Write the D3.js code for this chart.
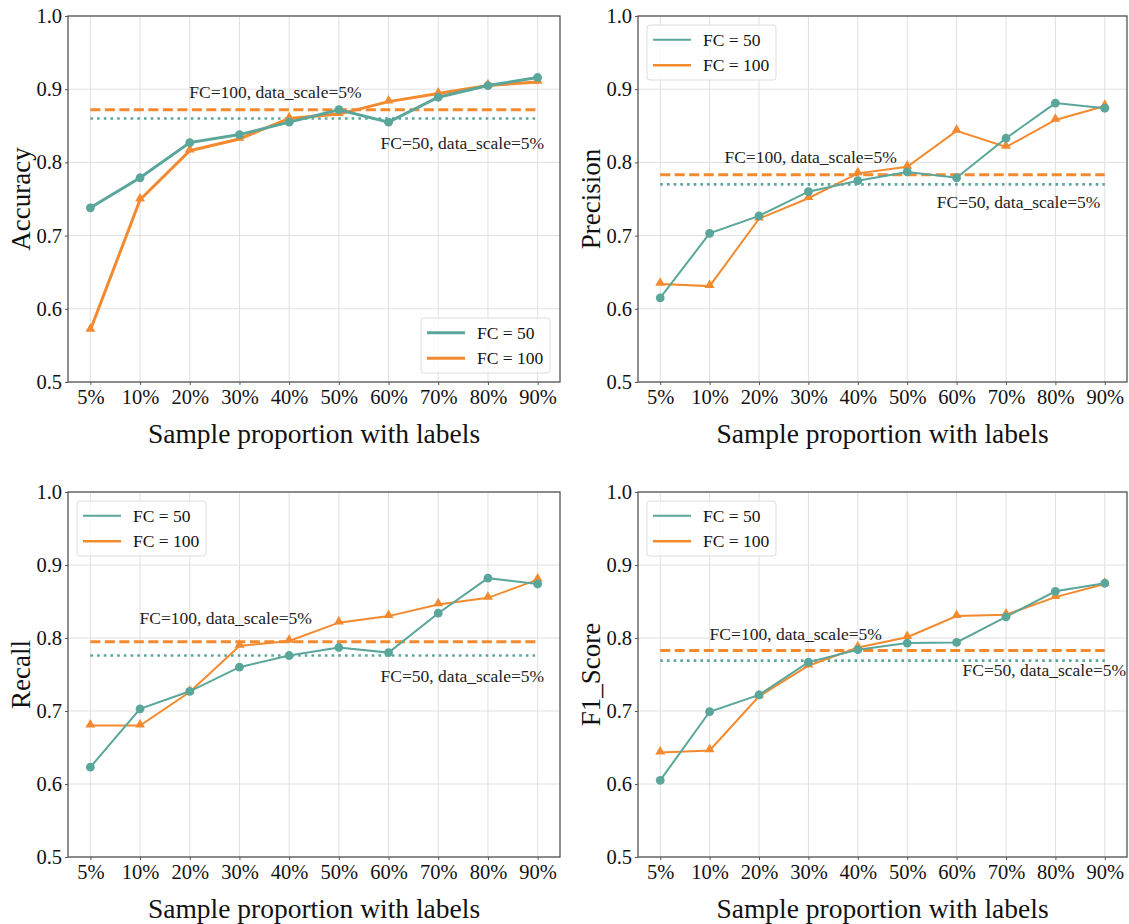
<!DOCTYPE html>
<html>
<head>
<meta charset="utf-8">
<style>
  body { margin: 0; background: #fff; }
  svg { font-family: "Liberation Serif", "Times New Roman", serif; }
  .grid line { stroke: #e0e0e0; stroke-width: 1; }
  .frame { fill: none; stroke: #555; stroke-width: 1.3; }
  .tick text { fill: #111; }
</style>
<script src="https://d3js.org/d3.v7.min.js"></script>
</head>
<body>
<script>
// categories
var proportions = ["5%", "10%", "20%", "30%", "40%", "50%", "60%", "70%", "80%", "90%"];
var yTicks = [0.5, 0.6, 0.7, 0.8, 0.9, 1.0];
var legendLabels = ["FC = 50", "FC = 100"];

// series
var accFC50  = [0.738, 0.779, 0.827, 0.838, 0.855, 0.872, 0.855, 0.889, 0.905, 0.916];
var accFC100 = [0.571, 0.749, 0.816, 0.832, 0.860, 0.866, 0.883, 0.894, 0.905, 0.910];
var preFC50  = [0.615, 0.703, 0.727, 0.760, 0.775, 0.787, 0.779, 0.833, 0.881, 0.874];
var preFC100 = [0.634, 0.631, 0.723, 0.751, 0.785, 0.794, 0.843, 0.821, 0.858, 0.877];
var recFC50  = [0.623, 0.703, 0.727, 0.760, 0.776, 0.787, 0.780, 0.834, 0.882, 0.874];
var recFC100 = [0.680, 0.680, 0.726, 0.789, 0.796, 0.821, 0.830, 0.846, 0.855, 0.880];
var f1FC50   = [0.605, 0.699, 0.722, 0.767, 0.784, 0.793, 0.794, 0.829, 0.864, 0.875];
var f1FC100  = [0.643, 0.646, 0.720, 0.762, 0.787, 0.801, 0.830, 0.832, 0.856, 0.874];

// baselines at data_scale = 5%
var baseFC50  = [0.860, 0.770, 0.776, 0.769];
var baseFC100 = [0.872, 0.783, 0.795, 0.783];
var metricNames = ["Accuracy", "Precision", "Recall", "F1_Score"];

var teal = "#5aa69a", orange = "#f38a2f";

// layout of the four panels
var panels = [
  { x: 68,  y: 16,  w: 492, h: 366, s50: accFC50, s100: accFC100, lw: 3, legend: "br",
    t100: [1.99, 0.897], t50: [5.84, 0.826] },
  { x: 638, y: 16,  w: 489, h: 366, s50: preFC50, s100: preFC100, lw: 2, legend: "tl",
    t100: [1.3, 0.807], t50: [5.6, 0.746] },
  { x: 68,  y: 492, w: 492, h: 365, s50: recFC50, s100: recFC100, lw: 2, legend: "tl",
    t100: [0.99, 0.827], t50: [5.84, 0.748] },
  { x: 638, y: 492, w: 489, h: 365, s50: f1FC50, s100: f1FC100, lw: 2, legend: "tl",
    t100: [1.0, 0.806], t50: [6.12, 0.756] }
];

var svg = d3.select("body").append("svg")
  .attr("width", 1129)
  .attr("height", 924);

panels.forEach(function(p, i) {
  var g = svg.append("g").attr("transform", "translate(" + p.x + "," + p.y + ")");

  var x = d3.scalePoint().domain(proportions).range([0, p.w]).padding(0.45);
  var y = d3.scaleLinear().domain([0.5, 1.0]).range([p.h, 0]);
  // fractional category index -> pixel, for text placement
  var xi = d3.scaleLinear().domain([0, proportions.length - 1])
    .range([x(proportions[0]), x(proportions[proportions.length - 1])]);

  // grid
  g.append("g").attr("class", "grid")
    .selectAll("line.h").data(yTicks).enter().append("line")
    .attr("x1", 0).attr("x2", p.w)
    .attr("y1", function(d) { return y(d); }).attr("y2", function(d) { return y(d); });
  g.append("g").attr("class", "grid")
    .selectAll("line.v").data(proportions).enter().append("line")
    .attr("y1", 0).attr("y2", p.h)
    .attr("x1", function(d) { return x(d); }).attr("x2", function(d) { return x(d); });

  // axes
  var xAxis = d3.axisBottom(x).tickSize(3).tickPadding(4);
  var yAxis = d3.axisLeft(y).tickValues(yTicks).tickFormat(d3.format(".1f")).tickSize(3).tickPadding(3);

  var gx = g.append("g").attr("transform", "translate(0," + p.h + ")").call(xAxis);
  var gy = g.append("g").call(yAxis);
  [gx, gy].forEach(function(a) {
    a.attr("font-family", null).attr("font-size", null);
    a.select(".domain").remove();
    a.selectAll(".tick line").attr("stroke", "#555");
    a.selectAll(".tick text").style("font-size", "20.5px").attr("fill", "#111");
  });
  gx.selectAll(".tick text").attr("dy", "0.75em");

  // baselines
  g.append("line")
    .attr("x1", x(proportions[0])).attr("x2", x(proportions[proportions.length - 1]))
    .attr("y1", y(baseFC100[i])).attr("y2", y(baseFC100[i]))
    .attr("stroke", orange).attr("stroke-width", 3).attr("stroke-dasharray", "10,4.5");
  g.append("line")
    .attr("x1", x(proportions[0])).attr("x2", x(proportions[proportions.length - 1]))
    .attr("y1", y(baseFC50[i])).attr("y2", y(baseFC50[i]))
    .attr("stroke", teal).attr("stroke-width", 2.6).attr("stroke-dasharray", "2.6,4.1");

  var line = d3.line()
    .x(function(d, j) { return x(proportions[j]); })
    .y(function(d) { return y(d); });

  // FC = 100 (orange, triangles) drawn first, FC = 50 on top where they meet
  g.append("path").datum(p.s100)
    .attr("fill", "none").attr("stroke", orange).attr("stroke-width", p.lw).attr("d", line);
  g.append("path").datum(p.s50)
    .attr("fill", "none").attr("stroke", teal).attr("stroke-width", p.lw).attr("d", line);

  var tri = d3.symbol().type(d3.symbolTriangle).size(42);
  g.selectAll("path.tri").data(p.s100).enter().append("path")
    .attr("class", "tri")
    .attr("d", tri)
    .attr("fill", orange)
    .attr("transform", function(d, j) { return "translate(" + x(proportions[j]) + "," + (y(d) - 1) + ")"; });
  g.selectAll("circle.dot").data(p.s50).enter().append("circle")
    .attr("class", "dot")
    .attr("cx", function(d, j) { return x(proportions[j]); })
    .attr("cy", function(d) { return y(d); })
    .attr("r", 4.4)
    .attr("fill", teal);

  // annotations
  g.append("text")
    .attr("x", xi(p.t100[0])).attr("y", y(p.t100[1]))
    .attr("dy", "0.35em")
    .style("font-size", "17.5px").attr("fill", "#222")
    .text("FC=100, data_scale=5%");
  g.append("text")
    .attr("x", xi(p.t50[0])).attr("y", y(p.t50[1]))
    .attr("dy", "0.35em")
    .style("font-size", "17.5px").attr("fill", "#222")
    .text("FC=50, data_scale=5%");

  // frame
  g.append("rect").attr("class", "frame")
    .attr("width", p.w).attr("height", p.h);

  // axis titles
  g.append("text")
    .attr("transform", "translate(" + (-47) + "," + (p.h / 2) + ") rotate(-90)")
    .attr("text-anchor", "middle").attr("dy", "0.35em")
    .style("font-size", "27px").attr("fill", "#111")
    .text(metricNames[i]);
  g.append("text")
    .attr("x", p.w / 2).attr("y", p.h + 51)
    .attr("text-anchor", "middle").attr("dy", "0.35em")
    .style("font-size", "27.5px").attr("fill", "#111")
    .text("Sample proportion with labels");

  // legend
  var lw = 129, lh = 55;
  var lx = p.legend === "br" ? p.w - lw - 10 : 9;
  var ly = p.legend === "br" ? p.h - lh - 9 : 9;
  var lg = g.append("g").attr("transform", "translate(" + lx + "," + ly + ")");
  lg.append("rect")
    .attr("width", lw).attr("height", lh).attr("rx", 3)
    .attr("fill", "#fff").attr("fill-opacity", 0.8)
    .attr("stroke", "#ddd").attr("stroke-width", 1);
  var legendRow = d3.scaleBand().domain(legendLabels).range([2, lh - 2]);
  lg.selectAll("g.item").data(legendLabels).enter().append("g")
    .attr("class", "item")
    .each(function(d, k) {
      var it = d3.select(this);
      var cy = legendRow(d) + legendRow.bandwidth() / 2;
      it.append("line")
        .attr("x1", 6).attr("x2", 44).attr("y1", cy).attr("y2", cy)
        .attr("stroke", k === 0 ? teal : orange)
        .attr("stroke-width", p.lw === 3 ? 3.2 : (k === 0 ? 1.8 : 2.4));
      it.append("text")
        .attr("x", 56).attr("y", cy).attr("dy", "0.35em")
        .style("font-size", "17.5px").attr("fill", "#111")
        .text(d);
    });
});
</script>
</body>
</html>
